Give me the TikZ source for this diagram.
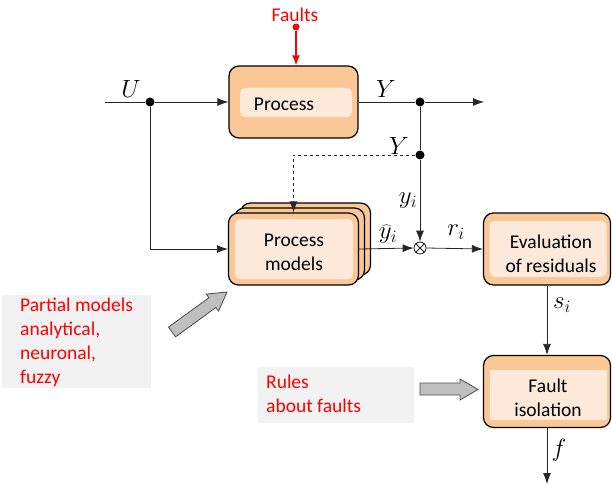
\documentclass[tikz,border=0pt]{standalone}
\usepackage{fontspec}
\newfontfamily\carlito{Carlito}
\usetikzlibrary{arrows.meta}
\definecolor{orangeo}{HTML}{FAC896}
\definecolor{orangei}{HTML}{FDE9DA}
\definecolor{boxgray}{HTML}{F2F2F2}
\definecolor{arrgray}{HTML}{BFBFBF}
\definecolor{redtxt}{HTML}{FF0000}
\begin{document}
\begin{tikzpicture}[x=1pt,y=-1pt,
  outer/.style={draw=black, line width=1.2pt, fill=orangeo, rounded corners=10pt, inner sep=0pt},
  inner/.style={fill=orangei, rounded corners=5pt, inner sep=0pt},
  boxtext/.style={inner sep=0pt, font=\carlito\fontsize{19.5}{24}\selectfont, align=center},
  lab/.style={font=\fontsize{24}{24}\selectfont, inner sep=0pt},
  redtext/.style={text=redtxt, font=\carlito\fontsize{19.5}{24}\selectfont, align=left, inner sep=0pt},
  line/.style={line width=0.8pt, draw=black!85},
  arr/.style={line, -{Latex[length=11pt,width=8pt]}},
  dot/.style={circle, fill=black, inner sep=0pt, minimum size=9pt},
  bigarr/.style={fill=arrgray, draw=black!70, line width=0.8pt}
]
\path[use as bounding box] (0,0) rectangle (612,484);

% gray boxes
\node[fill=boxgray, minimum width=149pt, minimum height=93pt, inner sep=0pt] (pbox) at (76.5,341.5) {};
\node[redtext, anchor=north west] (ptext) at (20,298) {Partial models\\analytical,\\neuronal,\\fuzzy};
\node[fill=boxgray, minimum width=156pt, minimum height=56pt, inner sep=0pt] (rbox) at (336,395) {};
\node[redtext, anchor=north west] (rtext) at (266,375) {Rules\\about faults};

% Process
\node[outer, minimum width=129pt, minimum height=72pt] (proc) at (293.5,102) {};
\node[inner, minimum width=112pt, minimum height=29pt] (proci) at (296,102.5) {};
\node[boxtext] (proct) at (284,104) {Process};

% Process models (stacked)
\node[outer, minimum width=130pt, minimum height=72pt] (pm3) at (305.5,239) {};
\node[outer, minimum width=130pt, minimum height=72pt] (pm2) at (299.5,244) {};
\node[outer, minimum width=130pt, minimum height=72pt] (pm) at (293.5,249) {};
\node[inner, minimum width=118pt, minimum height=60pt] (pmi) at (294,249) {};
\node[boxtext] (pmt) at (294,252) {Process\\models};

% Evaluation
\node[outer, minimum width=127pt, minimum height=72pt] (ev) at (547,249) {};
\node[inner, minimum width=117pt, minimum height=56pt] (evi) at (548,249) {};
\node[boxtext] (evt) at (551,254) {Evaluation\\of residuals};

% Fault isolation
\node[outer, minimum width=127pt, minimum height=72pt] (iso) at (547,391.5) {};
\node[inner, rounded corners=0pt, minimum width=117pt, minimum height=50pt] (isoi) at (548,395) {};
\node[boxtext] (isot) at (548,398) {Fault\\isolation};

% sum
\node[circle, draw=black, fill=white, line width=0.7pt, minimum size=12pt, inner sep=0pt] (sum) at (420,248) {};
\draw[line width=0.7pt] (sum.north west) -- (sum.south east) (sum.north east) -- (sum.south west);

% dots and coordinates
\coordinate (uin) at (105,102);
\node[dot] (ud) at (150,102) {};
\node[dot] (yd) at (420,102) {};
\node[dot] (yd2) at (420,155) {};
\coordinate (yout) at (484,102);
\coordinate (fout) at (547,484);
\node[circle, fill=redtxt, inner sep=0pt, minimum size=7pt] (fdot) at (296,27) {};
\node[text=redtxt, font=\carlito\fontsize{19.5}{24}\selectfont, inner sep=0pt] (ftext) at (295,15) {Faults};

% connectors
\draw[line] (uin) -- (ud);
\draw[arr] (ud) -- (proc.west);
\draw[arr] (ud) |- (pm.west);
\draw[line] (proc.east) -- (yd);
\draw[arr] (yd) -- (yout);
\draw[line] (yd) -- (yd2);
\draw[arr] (yd2) -- (sum.north);
\draw[arr, dashed] (yd2) -| (pm.north);
\draw[arr] (pm.east) -- (sum.west);
\draw[arr] (sum.east) -- (ev.west);
\draw[arr] (ev.south) -- (iso.north);
\draw[arr] (iso.south) -- (fout);
\draw[redtxt, line width=1.6pt, -{Latex[length=10pt,width=8pt]}] (fdot) -- (fdot |- proc.north);

% labels
\node[lab] (lu) at (131,89) {$U$};
\node[lab] (ly1) at (386,89) {$Y$};
\node[lab] (ly2) at (399,146) {$Y$};
\node[lab] (lyi) at (408,201) {$y_i$};
\node[lab] (lyh) at (388,234) {$\widehat{y}_i$};
\node[lab] (lri) at (456,232) {$r_i$};
\node[lab] (lsi) at (562,305) {$s_i$};
\node[lab] (lf) at (559,450) {$f$};

% big gray arrows
\draw[bigarr] (420,383) -- (460,383) -- (460,379) -- (478,389.5) -- (460,400) -- (460,395) -- (420,395) -- cycle;
\draw[bigarr] (168.5,327.1) -- (208.9,297.7) -- (206.2,294.1) -- (227,292) -- (218.6,311.1) -- (215.9,307.5) -- (175.5,336.9) -- cycle;
\end{tikzpicture}
\end{document}
